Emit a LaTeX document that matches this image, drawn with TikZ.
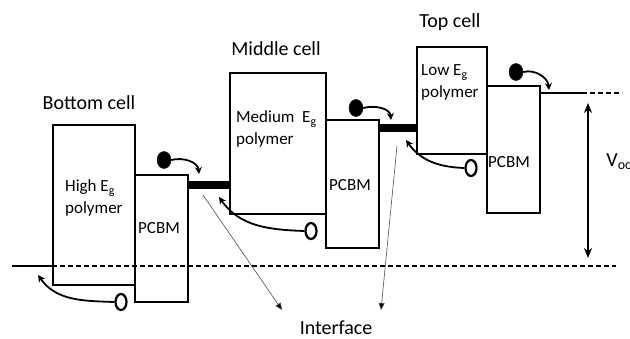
\documentclass[tikz,border=0pt]{standalone}
\usepackage{fontspec}
\setmainfont{Carlito}
\usetikzlibrary{arrows.meta,shapes.geometric}
\begin{document}
\begin{tikzpicture}[x=1pt,y=-1pt,
  lvl/.style={draw=black,line width=2pt,fill=white,inner sep=0pt,anchor=north west},
  bar/.style={line width=8pt},
  ttl/.style={font=\fontsize{20}{24}\selectfont,inner sep=0pt},
  lbl/.style={font=\fontsize{17}{21.5}\selectfont,inner sep=0pt,align=left},
  elec/.style={fill=black,draw=black,ellipse,minimum width=14pt,minimum height=17pt,inner sep=0pt},
  hole/.style={draw=black,line width=2.2pt,ellipse,minimum width=11pt,minimum height=16pt,inner sep=0pt},
  earrow/.style={line width=1.8pt,-{Stealth[length=7pt,width=7pt]}},
  harrow/.style={line width=1.8pt,-{Stealth[length=7pt,width=7pt]}},
  ifarrow/.style={line width=0.6pt,draw=black!70,-{Triangle[length=7pt,width=6pt,fill=black]}},
  base/.style={line width=1.2pt,dash pattern=on 5pt off 3pt}
]
\useasboundingbox (0,0) rectangle (630,338);
\draw[line width=2pt] (12,266) -- (52,266);
% boxes
\node[lvl,minimum width=82pt,minimum height=160pt] (hp) at (52,124) {};
\node[lvl,minimum width=53pt,minimum height=127pt] (p1) at (134,174) {};
\node[lvl,minimum width=96pt,minimum height=141pt] (mp) at (229,72) {};
\node[lvl,minimum width=53pt,minimum height=128pt] (p2) at (325,119) {};
\node[lvl,minimum width=70pt,minimum height=107pt] (lp) at (416,46) {};
\node[lvl,minimum width=53pt,minimum height=127pt] (p3) at (486,85) {};
\coordinate (dl) at (52,266);
\coordinate (dr) at (616,266);
\draw[base] (dl) -- (dr);
% interface bars
\draw[bar] (187,185) -- (229,185);
\draw[bar] (378,128) -- (416,128);
% top output line
\coordinate (vo) at (582,93);
\coordinate (vd) at (622,93);
\draw[line width=2pt] (539,93) -- (vo);
\draw[base] (vo) -- (vd);
% Voc arrow
\coordinate (va) at (588,103);
\coordinate (vb) at (588,258);
\draw[line width=1.3pt,{Stealth[length=10pt,width=8pt]}-{Stealth[length=10pt,width=8pt]}] (va) -- (vb);
\node[font=\fontsize{20}{24}\selectfont,inner sep=0pt] (voc) at (619,162) {V\textsubscript{oc}};
% titles
\node[ttl] (t1) at (89,103) {Bottom cell};
\node[ttl] (t2) at (276,49) {Middle cell};
\node[ttl] (t3) at (450,22) {Top cell};
\node[ttl,anchor=base] (ifc) at (336,334) {Interface};
% box labels (base = baseline of last line)
\node[lbl,anchor=base west] (l1) at (65,213) {High E\textsubscript{g}\\polymer};
\node[lbl,anchor=base west] (l2) at (236,144) {Medium\ \ E\textsubscript{g}\\polymer};
\node[lbl,anchor=base west] (l3) at (421,97) {Low E\textsubscript{g}\\polymer};
\node[lbl] (c1) at (159,228) {PCBM};
\node[lbl] (c2) at (350,185) {PCBM};
\node[lbl] (c3) at (509,162) {PCBM};
% electrons
\node[elec] (e1) at (164,160) {};
\node[elec] (e2) at (356,108) {};
\node[elec] (e3) at (516,72) {};
\draw[earrow] (e1.east) to[out=15,in=95] (199,174);
\draw[earrow] (e2.east) to[out=15,in=95] (391,120);
\draw[earrow] (e3.east) to[out=15,in=95] (549,90);
% holes
\node[hole] (h1) at (121,302) {};
\node[hole] (h2) at (311,231) {};
\node[hole] (h3) at (471,168) {};
\draw[harrow] (h1.west) to[out=178,in=-55] (38,275);
\draw[harrow] (h2.west) to[out=178,in=-55] (219,197);
\draw[harrow] (h3.west) to[out=178,in=-55] (406,140);
% interface pointers
\coordinate (i1) at (203,195);
\coordinate (i2) at (397,146);
\coordinate (ia) at (282,310);
\coordinate (ib) at (381,310);
\draw[ifarrow] (i1) -- (ia);
\draw[ifarrow] (i2) -- (ib);
\end{tikzpicture}
\end{document}
